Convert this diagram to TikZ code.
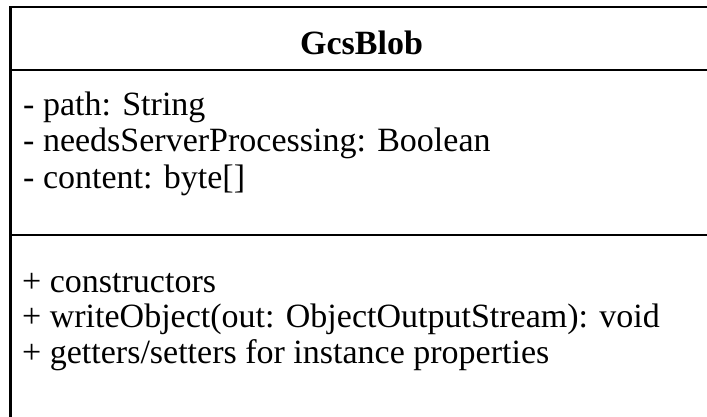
\documentclass[tikz,border=0pt]{standalone}
\usepackage{fontspec}
\setmainfont{Liberation Serif}
\begin{document}
\begin{tikzpicture}[x=1pt,y=-1pt,
  member/.style={anchor=base west,inner sep=0pt,font=\fontsize{34}{37}\selectfont},
  classname/.style={anchor=base,inner sep=0pt,font=\fontsize{34}{37}\selectfont\bfseries},
  frame/.style={line width=2.4pt,draw=black}]
\useasboundingbox (0,0) rectangle (707,417);
\clip (0,0) rectangle (707,417);
% class box and compartment dividers
\coordinate (tl) at (10.5,7);
\coordinate (br) at (712,440);
\draw[frame] (tl) rectangle (br);
\coordinate (d1l) at (10.5,70);
\coordinate (d1r) at (712,70);
\coordinate (d2l) at (10.5,235);
\coordinate (d2r) at (712,235);
\draw[frame] (d1l) -- (d1r);
\draw[frame] (d2l) -- (d2r);
% name compartment
\node[classname] (name) at (361.5,55) {GcsBlob};
% attributes
\node[member] (a1) at (23,116) {- path: String};
\node[member] (a2) at (23,152) {- needsServerProcessing: Boolean};
\node[member] (a3) at (23,188) {- content: byte[]};
% operations
\node[member] (m1) at (22,292) {+ constructors};
\node[member] (m2) at (22,327) {+ writeObject(out: ObjectOutputStream): void};
\node[member] (m3) at (22,363) {+ getters/setters for instance properties};
\end{tikzpicture}
\end{document}
